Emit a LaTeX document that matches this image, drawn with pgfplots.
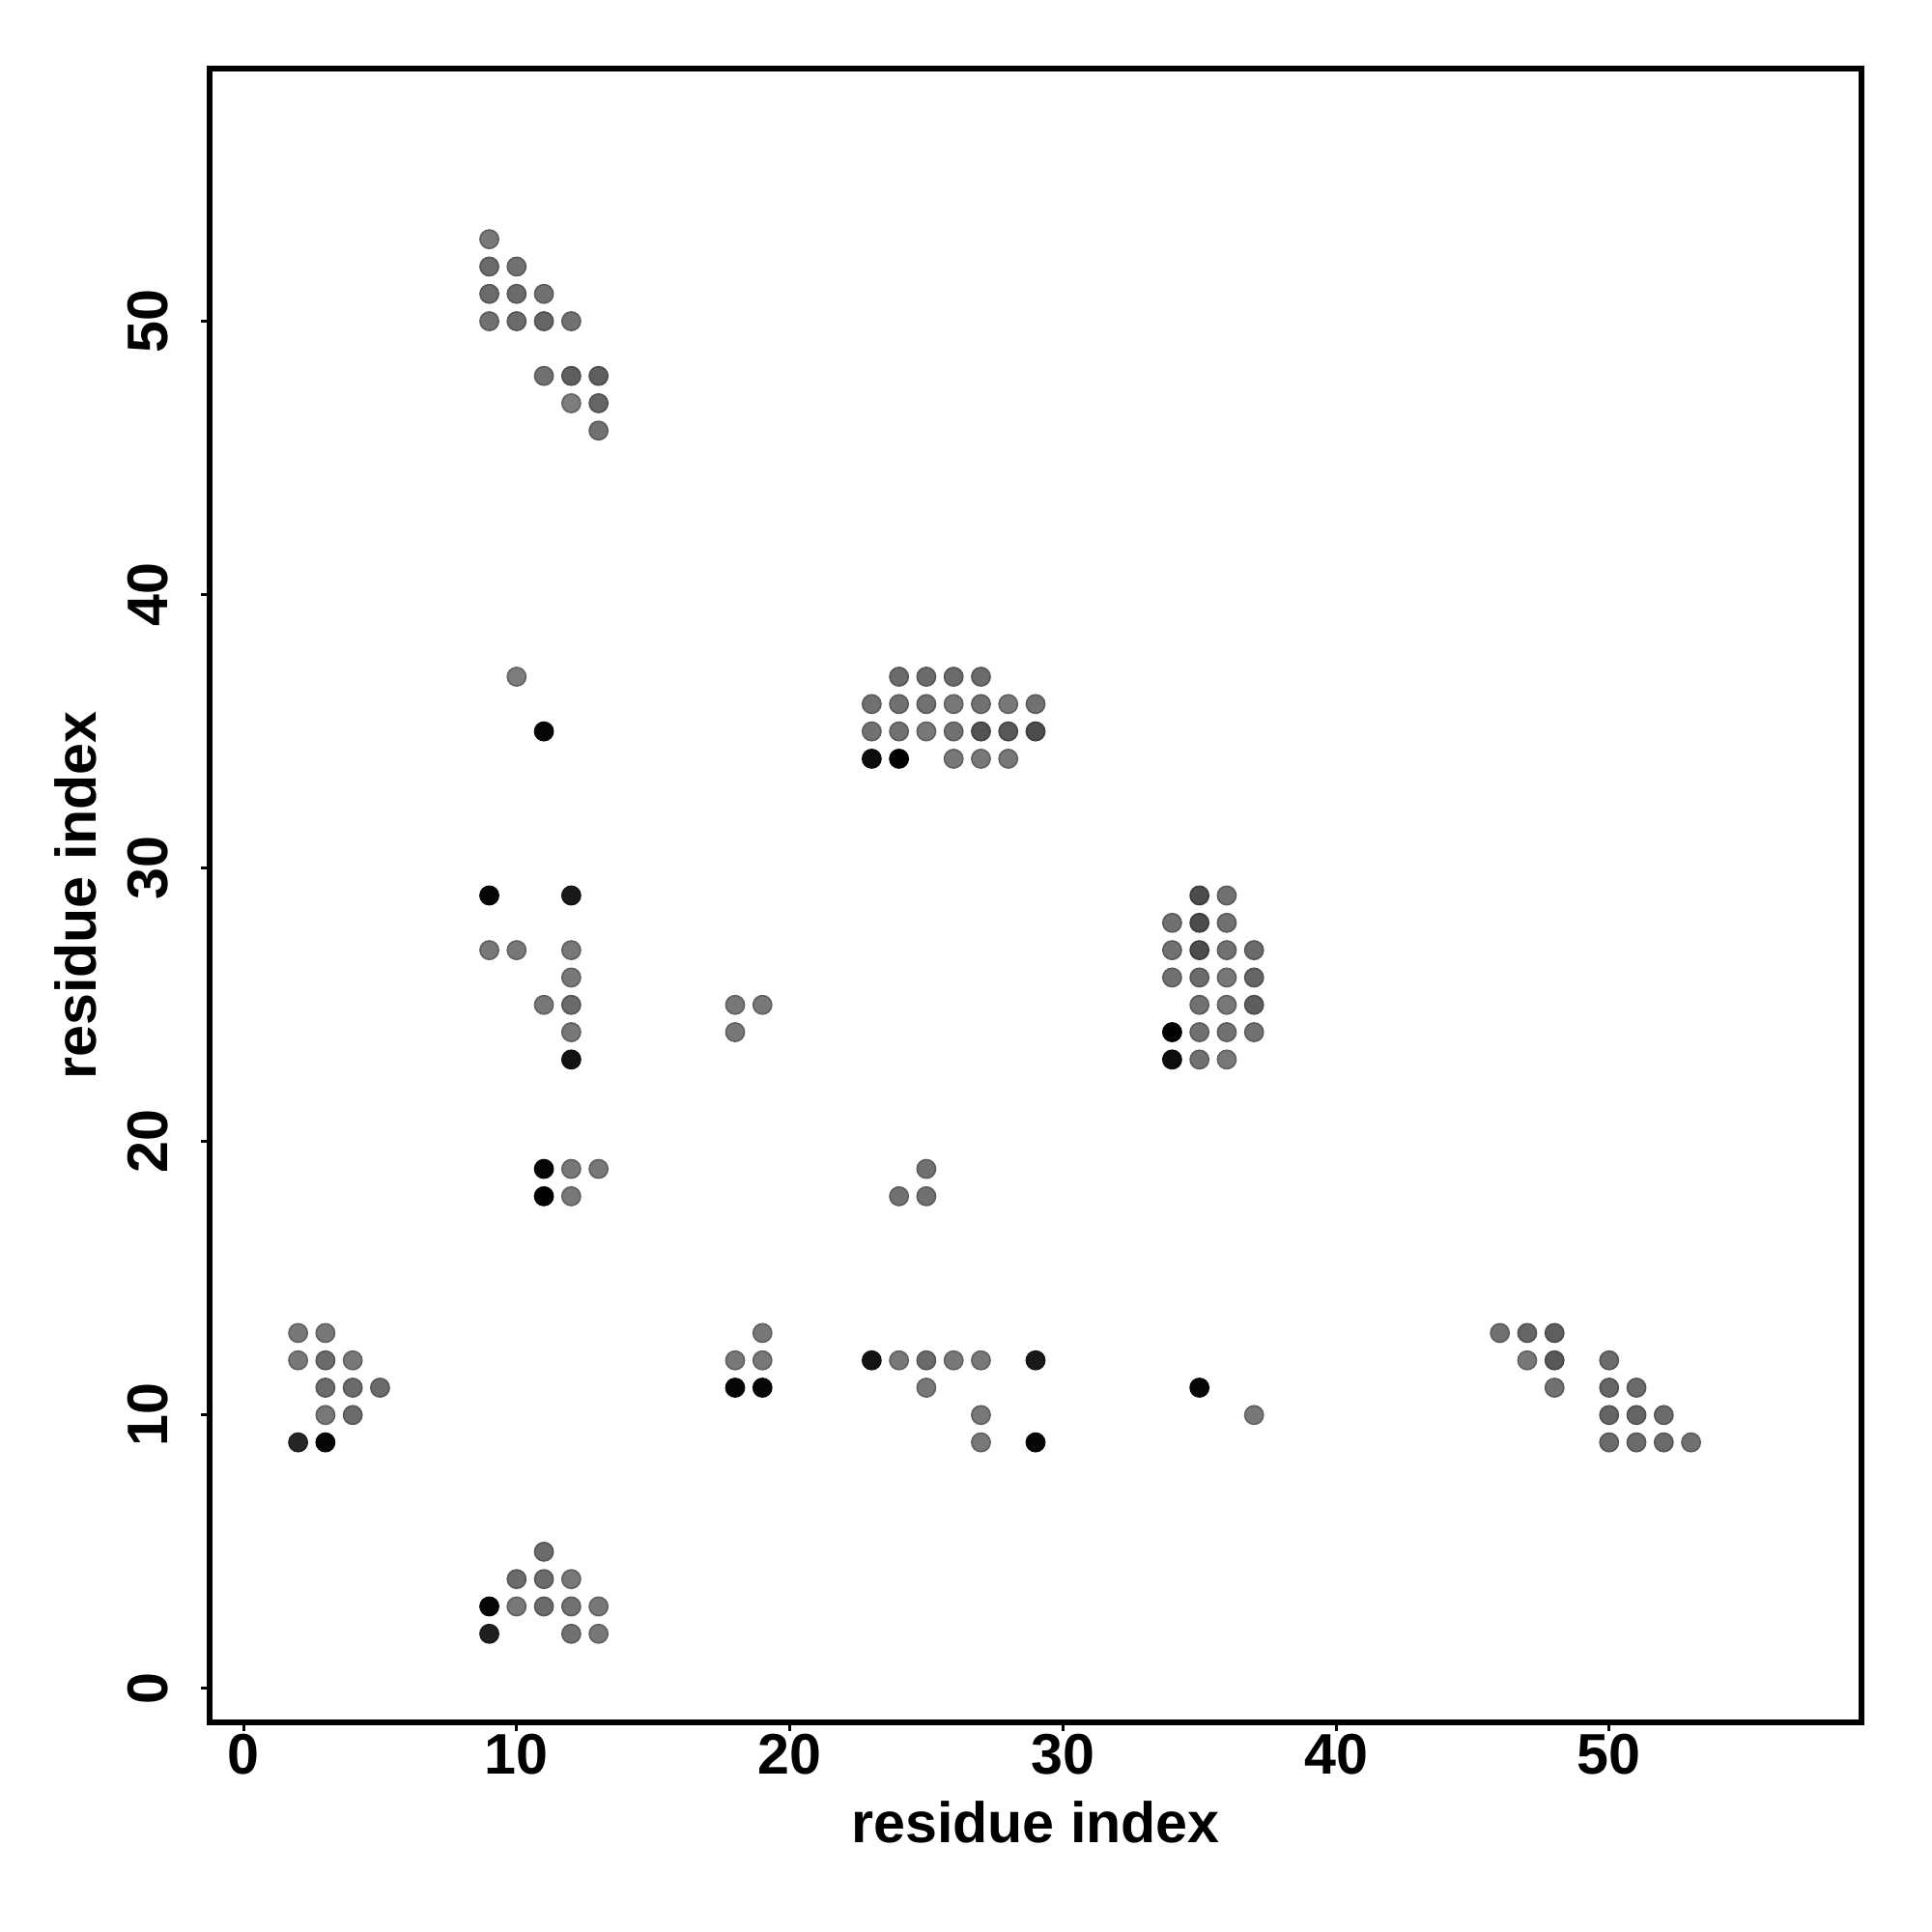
\documentclass[border=0pt]{standalone}
\usepackage{pgfplots}
\pgfplotsset{compat=1.18}
\usepackage{fontspec}
\setmainfont{Liberation Sans}
\pgfplotstableread{
x y c
9 53 0.95
9 52 0.85
10 52 0.9
9 51 0.85
10 51 0.85
11 51 0.9
9 50 0.9
10 50 0.85
11 50 0.8
12 50 0.9
11 48 0.9
12 48 0.75
13 48 0.75
12 47 1
13 47 0.8
13 46 0.9
10 37 1
11 35 0.05
9 29 0.05
12 29 0.2
9 27 0.95
10 27 0.95
12 27 0.95
12 26 0.95
11 25 0.95
12 25 0.85
12 24 0.95
12 23 0.15
11 19 0.05
12 19 0.95
13 19 0.95
11 18 0.0
12 18 0.95
18 25 0.95
19 25 0.95
18 24 0.95
25 19 0.9
24 18 0.9
25 18 0.9
19 13 0.95
18 12 0.95
19 12 0.95
18 11 0.05
19 11 0.05
35 11 0.05
37 10 0.95
24 37 0.85
25 37 0.85
26 37 0.85
27 37 0.85
23 36 0.9
24 36 0.9
25 36 0.9
26 36 0.95
27 36 0.9
28 36 0.95
29 36 0.9
23 35 0.9
24 35 0.9
25 35 0.95
26 35 0.9
27 35 0.65
28 35 0.7
29 35 0.6
23 34 0.1
24 34 0.0
26 34 0.95
27 34 0.95
28 34 0.95
35 29 0.6
36 29 0.9
34 28 0.9
35 28 0.6
36 28 0.9
34 27 0.9
35 27 0.6
36 27 0.9
37 27 0.85
34 26 0.9
35 26 0.85
36 26 0.95
37 26 0.8
35 25 0.9
36 25 0.95
37 25 0.75
34 24 0.0
35 24 0.9
36 24 0.9
37 24 0.9
34 23 0.1
35 23 0.9
36 23 0.95
2 13 0.95
3 13 0.95
2 12 0.95
3 12 0.85
4 12 0.95
3 11 0.85
4 11 0.85
5 11 0.85
3 10 0.95
4 10 0.85
2 9 0.3
3 9 0.05
11 5 0.85
10 4 0.85
11 4 0.85
12 4 0.95
9 3 0.05
10 3 0.95
11 3 0.85
12 3 0.9
13 3 0.95
9 2 0.25
12 2 0.9
13 2 0.95
23 12 0.15
24 12 0.95
25 12 0.85
26 12 0.95
27 12 0.95
29 12 0.2
25 11 0.95
27 10 0.95
27 9 0.95
29 9 0.05
46 13 0.9
47 13 0.8
48 13 0.75
47 12 0.95
48 12 0.7
48 11 0.9
50 12 0.85
50 11 0.8
51 11 0.85
50 10 0.8
51 10 0.8
52 10 0.85
50 9 0.85
51 9 0.85
52 9 0.85
53 9 0.9
}\pts
\begin{document}
\begin{tikzpicture}[x=1pt,y=1pt]
\path[use as bounding box] (0,0) rectangle (500,500);
\begin{axis}[
  at={(54.25pt,54.25pt)}, anchor=south west,
  scale only axis, width=427.5pt, height=428pt,
  xmin=-1.24, xmax=59.24, ymin=-1.24, ymax=59.24,
  xtick={0,10,20,30,40,50}, ytick={0,10,20,30,40,50},
  tick pos=left, tick align=outside, major tick length=2.3pt,
  axis line style={line width=1.5pt},
  every tick/.style={black, line width=0.75pt},
  /pgf/number format/assume math mode=true,
  ticklabel style={font=\fontsize{14.8}{16}\selectfont\bfseries, inner sep=0pt},
  xticklabel style={anchor=north, yshift=-0.6pt},
  yticklabel style={anchor=base, rotate=90, yshift=8.6pt},
  xlabel={residue index}, ylabel={residue index},
  label style={font=\fontsize{14.8}{16}\selectfont\bfseries, inner sep=0pt},
  xlabel style={at={(axis description cs:0.5,-0.0730)}, anchor=base},
  ylabel style={at={(axis description cs:-0.0687,0.5)}, anchor=base},
  colormap={g}{rgb255(0)=(0,0,0) rgb255(1)=(125,125,125)},
  point meta min=0, point meta max=1,
]
\addplot[scatter, only marks, mark=*, mark size=2.4pt, scatter src=explicit]
  table[x=x, y=y, meta=c] {\pts};
\end{axis}
\end{tikzpicture}
\end{document}
